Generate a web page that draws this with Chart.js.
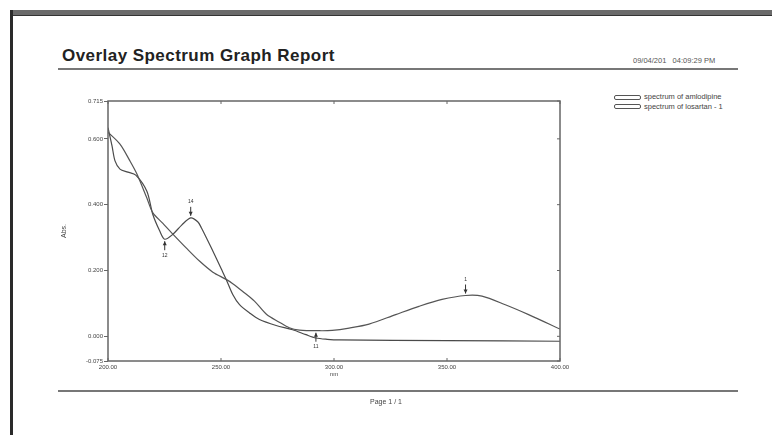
<!DOCTYPE html>
<html lang="en">
<head>
    <meta charset="UTF-8">
    <title>Overlay Spectrum Graph Report</title>
    <style>
        body { margin: 0; background: #fff; font-family: 'Liberation Sans', Arial, sans-serif; }
        #page { position: relative; width: 772px; height: 435px; overflow: hidden; background: #fff; }
        .topbar { position: absolute; left: 10px; top: 10px; width: 762px; height: 5px; background: #6a6a6a; border-bottom: 1px solid #333; }
        .leftbar { position: absolute; left: 10px; top: 10px; width: 3px; height: 425px; background: #2a2a2a; }
        .title { position: absolute; left: 62px; top: 46px; font-size: 17px; letter-spacing: 0.45px; font-weight: bold; color: #222; }
        .date { position: absolute; left: 633px; top: 56px; font-size: 7.5px; color: #555; white-space: pre; }
        .rule { position: absolute; left: 58px; width: 680px; height: 2px; background: #777; }
        .legend { position: absolute; left: 614px; top: 92px; font-size: 7.5px; color: #444; line-height: 9.5px; }
        .legend div { white-space: nowrap; }
        .legend span { display: inline-block; width: 25px; height: 3px; border: 1px solid #555; border-radius: 2px; margin-right: 3px; vertical-align: middle; }
        .footer { position: absolute; left: 0; width: 772px; top: 398px; text-align: center; font-size: 7px; color: #444; }
        #chartBox { position: absolute; left: 0; top: 0; width: 772px; height: 435px; }
    </style>
    <script src="https://cdn.jsdelivr.net/npm/chart.js@4.4.1/dist/chart.umd.min.js"></script>
</head>
<body>
<div id="page">
    <div class="topbar"></div>
    <div class="leftbar"></div>
    <div class="title">Overlay Spectrum Graph Report</div>
    <div class="date">09/04/201   04:09:29 PM</div>
    <div class="rule" style="top:68px"></div>
    <div class="legend">
        <div><span></span>spectrum of amlodipine</div>
        <div><span></span>spectrum of losartan - 1</div>
    </div>
    <div id="chartBox"><canvas id="spectrum" width="772" height="435"></canvas></div>
    <div class="rule" style="top:390px"></div>
    <div class="footer">Page 1 / 1</div>
</div>

<script>
    // spectrum of losartan - 1 (peak ~237 nm, flat above 300 nm)
    const nmLos = [200, 201.8, 203.1, 205.3, 208.8, 212.3, 217.2, 219.8, 222.9, 225.1, 228.7, 232.6, 236.6, 239.7, 241.3, 245.7, 250.1, 252.3, 255.2, 258.2, 262.6, 267.0, 274.4, 281.7, 287.6, 292.0, 297.0, 302.3, 350, 400];
    const absLos = [0.634, 0.578, 0.533, 0.508, 0.499, 0.490, 0.441, 0.371, 0.320, 0.295, 0.310, 0.338, 0.360, 0.348, 0.330, 0.269, 0.205, 0.173, 0.127, 0.096, 0.071, 0.051, 0.033, 0.020, 0.005, -0.005, -0.009, -0.011, -0.013, -0.015];

    // spectrum of amlodipine (shoulder ~258 nm, broad peak ~358 nm)
    const nmAml = [200, 205.3, 209.7, 212.8, 217.2, 219.8, 224.3, 228.8, 234.7, 240.6, 246.4, 252.3, 255.2, 259.5, 264.8, 270.1, 275.8, 280.2, 284.7, 293.5, 299.2, 306.7, 315.5, 327.3, 337.6, 347.8, 358.2, 365.5, 375.8, 386.1, 400];
    const absAml = [0.620, 0.584, 0.533, 0.493, 0.420, 0.376, 0.343, 0.310, 0.268, 0.228, 0.195, 0.173, 0.160, 0.137, 0.107, 0.067, 0.043, 0.026, 0.019, 0.017, 0.018, 0.025, 0.037, 0.066, 0.091, 0.112, 0.124, 0.122, 0.096, 0.066, 0.022];

    const yTicks = [-0.075, 0.000, 0.200, 0.400, 0.600, 0.715];

    // peak / valley picks
    const pickNm = [225.1, 236.6, 292.0, 358.2];
    const pickAbs = [0.295, 0.360, 0.017, 0.124];
    const pickType = ['valley', 'peak', 'valley', 'peak'];
    const pickLabel = ['12', '14', '11', '1'];

    const toPoints = (xs, ys) => xs.map((x, i) => ({ x: x, y: ys[i] }));

    const framePlugin = {
        id: 'frame',
        afterDraw(chart) {
            const ctx = chart.ctx;
            const a = chart.chartArea;
            const xs = chart.scales.x;
            const ys = chart.scales.y;
            ctx.save();
            ctx.strokeStyle = '#666';
            ctx.lineWidth = 1.5;
            ctx.strokeRect(a.left, a.top, a.right - a.left, a.bottom - a.top);

            // small inner ticks on top / bottom / right
            ctx.lineWidth = 1;
            xs.ticks.forEach(t => {
                const px = xs.getPixelForValue(t.value);
                ctx.beginPath();
                ctx.moveTo(px, a.top); ctx.lineTo(px, a.top + 3);
                ctx.moveTo(px, a.bottom); ctx.lineTo(px, a.bottom - 3);
                ctx.stroke();
            });
            ys.ticks.forEach(t => {
                const py = ys.getPixelForValue(t.value);
                ctx.beginPath();
                ctx.moveTo(a.right, py); ctx.lineTo(a.right - 3, py);
                ctx.stroke();
            });

            // pick markers
            ctx.fillStyle = '#333';
            ctx.strokeStyle = '#333';
            ctx.font = '5px "Liberation Sans", Arial, sans-serif';
            ctx.textAlign = 'center';
            ctx.textBaseline = 'middle';
            pickNm.forEach((nm, i) => {
                const px = xs.getPixelForValue(nm);
                const py = ys.getPixelForValue(pickAbs[i]);
                const dir = pickType[i] === 'peak' ? -1 : 1;
                const tip = py + dir * 2;
                ctx.beginPath();
                ctx.moveTo(px, tip + dir * 9);
                ctx.lineTo(px, tip);
                ctx.stroke();
                ctx.beginPath();
                ctx.moveTo(px, tip);
                ctx.lineTo(px - 2, tip + dir * 4);
                ctx.lineTo(px + 2, tip + dir * 4);
                ctx.closePath();
                ctx.fill();
                ctx.fillText(pickLabel[i], px, tip + dir * 14);
            });
            ctx.restore();
        }
    };

    new Chart(document.getElementById('spectrum'), {
        type: 'line',
        data: {
            datasets: [
                {
                    label: 'spectrum of amlodipine',
                    data: toPoints(nmAml, absAml),
                    borderColor: '#555',
                    borderWidth: 1.2,
                    pointRadius: 0,
                    tension: 0.3
                },
                {
                    label: 'spectrum of losartan - 1',
                    data: toPoints(nmLos, absLos),
                    borderColor: '#4a4a4a',
                    borderWidth: 1.2,
                    pointRadius: 0,
                    tension: 0.3
                }
            ]
        },
        options: {
            responsive: false,
            animation: false,
            layout: { padding: { left: 56, top: 101, right: 212, bottom: 57 } },
            plugins: { legend: { display: false }, tooltip: { enabled: false } },
            scales: {
                x: {
                    type: 'linear',
                    min: 200,
                    max: 400,
                    grid: { display: false, drawTicks: false },
                    border: { display: false },
                    ticks: {
                        stepSize: 50,
                        padding: 3,
                        color: '#444',
                        font: { size: 6, family: '"Liberation Sans", Arial' },
                        maxRotation: 0,
                        callback: v => Number(v).toFixed(2)
                    },
                    title: { display: true, text: 'nm', color: '#444', padding: 0, font: { size: 6, family: '"Liberation Sans", Arial' } },
                    afterFit: s => { s.height = 17; }
                },
                y: {
                    type: 'linear',
                    min: -0.075,
                    max: 0.715,
                    grid: { drawOnChartArea: false, tickLength: 4, color: '#666' },
                    border: { display: false },
                    afterBuildTicks: s => { s.ticks = yTicks.map(v => ({ value: v })); },
                    ticks: {
                        padding: 1,
                        color: '#444',
                        font: { size: 6, family: '"Liberation Sans", Arial' },
                        callback: v => Number(v).toFixed(3)
                    },
                    title: { display: true, text: 'Abs.', color: '#444', font: { size: 7, family: '"Liberation Sans", Arial' } },
                    afterFit: s => { s.width = 52; }
                }
            }
        },
        plugins: [framePlugin]
    });
</script>
</body>
</html>
